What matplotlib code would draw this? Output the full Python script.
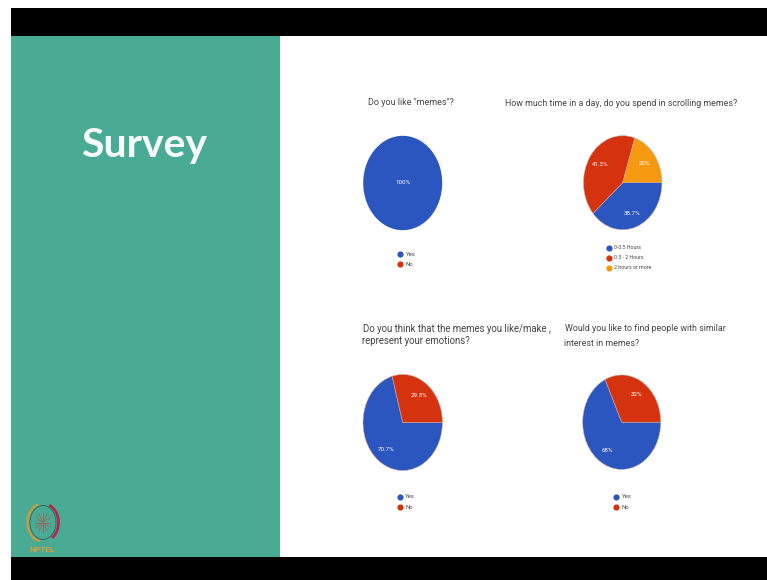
import numpy as np
import matplotlib
matplotlib.use("Agg")
import matplotlib.pyplot as plt
from matplotlib.patches import Rectangle, Arc

# Survey answers, in percent
like_labels = ["Yes", "No"]
like_values = [100, 0]
time_labels = ["0-0.5 Hours", "0.5 - 2 Hours", "2 hours or more"]
time_values = [38.7, 41.3, 20]
emotion_labels = ["Yes", "No"]
emotion_values = [70.7, 29.3]
people_labels = ["Yes", "No"]
people_values = [68, 32]

BLUE = "#2b56bf"
RED = "#d5320f"
ORANGE = "#f59a10"
TEAL = "#4aab95"
INK = "#444444"
COLORS = [BLUE, RED, ORANGE]

W, H = 767, 580
fig = plt.figure(figsize=(W / 100, H / 100), dpi=100, facecolor="white")
plt.rcParams["font.family"] = ["Roboto", "DejaVu Sans"]

# Slide canvas addressed in pixels from the top-left corner
bg = fig.add_axes([0, 0, 1, 1])
bg.set_xlim(0, W)
bg.set_ylim(H, 0)
bg.axis("off")
bg.add_patch(Rectangle((11, 8), W - 11, 28, color="black", lw=0))
bg.add_patch(Rectangle((11, 556.5), W - 11, H - 556.5, color="black", lw=0))
bg.add_patch(Rectangle((11, 36), 269, 520.5, color=TEAL, lw=0))
bg.text(144.5, 146, "Survey", color="#f6fbf9", fontsize=29.5, family="Lato",
        weight="bold", ha="center", va="center")


def pie_chart(cx, cy, rx, ry, values, labels, legend_x, legend_ys, legend_size=4.3):
    """Draw one pie in its own axes, stretched to rx by ry pixels, with its legend."""
    ax = fig.add_axes([(cx - rx) / W, 1 - (cy + ry) / H, 2 * rx / W, 2 * ry / H])
    if max(values) == sum(values):
        # A single full slice carries its label at the centre
        ax.pie(values, colors=COLORS[:len(values)], startangle=0, counterclock=False)
        ax.text(0, 0, f"{max(values):g}%", color="white", fontsize=4.4,
                ha="center", va="center")
    else:
        _, _, pct = ax.pie(
            values,
            colors=COLORS[:len(values)],
            startangle=0,
            counterclock=False,
            pctdistance=0.7,
            autopct=lambda p: f"{round(p, 1):g}%",
            wedgeprops={"edgecolor": "#c9a9a0", "linewidth": 0.4},
        )
        for t in pct:
            t.set_color("white")
            t.set_fontsize(4.4)
    ax.set_aspect("auto")
    ax.set_xlim(-1, 1)
    ax.set_ylim(-1, 1)
    for label, color, y in zip(labels, COLORS, legend_ys):
        bg.scatter([legend_x], [y], s=20, color=color, linewidths=0)
        bg.text(legend_x + 5.5, y, label, color=INK, fontsize=legend_size,
                va="center", ha="left")


pie_chart(402.7, 183, 39.5, 47.2, like_values, like_labels, 400, [254, 264])
pie_chart(622.7, 182.7, 39.2, 47, time_values, time_labels, 609, [247.7, 257.7, 267.7],
          legend_size=3.8)
pie_chart(402.7, 422.5, 39.7, 48, emotion_values, emotion_labels, 399.5, [496.7, 507.3])
pie_chart(621.7, 422.2, 39, 47.2, people_values, people_labels, 616, [496.7, 507.3])

# Question headings
bg.text(368, 102.5, 'Do you like "memes"?', color=INK, fontsize=6.45, va="center")
bg.text(505, 103, "How much time in a day, do you spend in scrolling memes?",
        color=INK, fontsize=6.42, va="center")
bg.text(363, 328.5, "Do you think that the memes you like/make ,", color=INK,
        fontsize=6.9, va="center")
bg.text(362.5, 341, "represent your emotions?", color=INK, fontsize=6.9, va="center")
bg.text(565, 328.5, "Would you like to find people with similar", color=INK,
        fontsize=6.43, va="center")
bg.text(564, 343, "interest in memes?", color=INK, fontsize=6.43, va="center")

# Institute emblem at the foot of the side panel
ex, ey = 43, 522.5
bg.add_patch(Arc((ex, ey), 31, 38, theta1=100, theta2=255, color="#d39a3a", lw=1.6))
bg.add_patch(Arc((ex, ey), 31, 38, theta1=-70, theta2=60, color="#b5274f", lw=2.0))
bg.add_patch(Arc((ex, ey), 26, 34, theta1=0, theta2=360, color="#2f6f5f", lw=0.7))
for angle in np.deg2rad(np.arange(0, 360, 30)):
    bg.plot([ex, ex + 8 * np.cos(angle)], [ey, ey + 9.5 * np.sin(angle)],
            color="#8f7068", lw=0.7)
bg.text(42.5, 550, "NPTEL", color="#d9a03c", fontsize=6, weight="bold",
        ha="center", va="center")

fig.savefig("out.png", dpi=100, facecolor="white")
